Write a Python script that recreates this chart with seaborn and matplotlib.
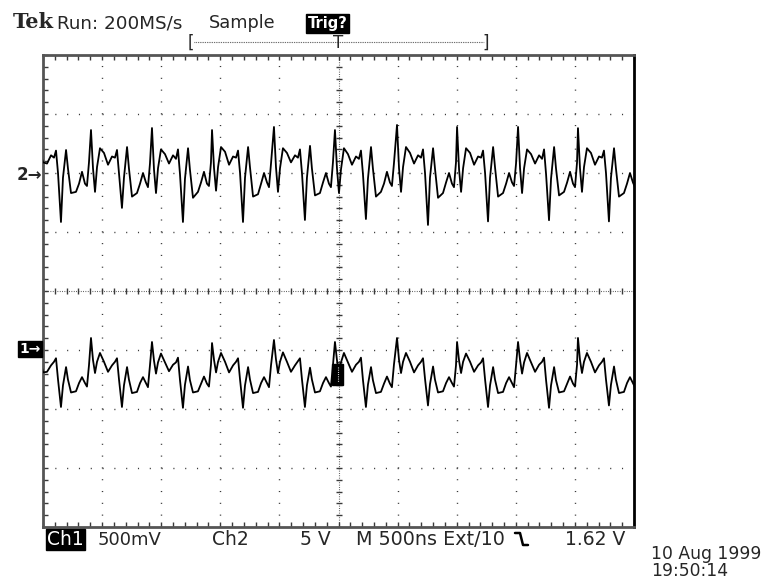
import numpy as np
import pandas as pd
import matplotlib
matplotlib.use("Agg")
import matplotlib.pyplot as plt
from matplotlib.lines import Line2D
from matplotlib.patches import Rectangle
from matplotlib.ticker import MultipleLocator
import seaborn as sns

# ---------------- data ----------------
peak_times_ns = [-2610, -2094, -1578, -1070, -546, -30, 495, 1003, 1519, 2026]
cycle_offsets_ns = [0, 17, 34, 51, 76, 110, 144, 178, 203, 220, 237,
                    262, 279, 305, 321, 347, 389, 415, 440, 465, 482, 499]

ch2_cycles_V = [
    [3.6, 0.4, -1.6, 0.4, 2.1, 0.9, 0.8, 1.5, 1.3, 1.9, 0.0, -4.15, -0.4, 1.95, 0.4, -1.7, -1.6, -0.9, 0.1, -0.9, -1.1, 0.9],
    [3.64, 0.4, -1.6, 0.5, 2.1, 1.7, 0.7, 1.4, 1.3, 1.95, 0.0, -2.96, -0.4, 2.2, 0.4, -2.0, -1.7, -0.9, 0.0, -0.8, -1.2, 0.8],
    [3.81, 0.3, -1.7, 0.4, 2.0, 1.6, 0.8, 1.5, 1.2, 2.0, -0.1, -4.15, -0.5, 2.1, 0.3, -2.1, -1.6, -0.8, 0.1, -0.9, -1.1, 0.9],
    [3.64, 0.4, -1.5, 0.5, 2.2, 1.8, 0.7, 1.4, 1.3, 1.9, 0.0, -4.15, -0.4, 2.2, 0.5, -2.0, -1.8, -0.9, 0.0, -0.8, -1.2, 0.8],
    [3.9, 0.5, -1.6, 0.4, 2.1, 1.7, 0.9, 1.5, 1.3, 2.0, 0.0, -3.98, -0.4, 2.3, 0.4, -1.9, -1.7, -0.8, 0.0, -0.9, -1.2, 0.9],
    [3.64, 0.4, -1.7, 0.3, 2.1, 1.6, 0.7, 1.4, 1.2, 1.9, -0.1, -3.9, -0.5, 2.2, 0.4, -2.0, -1.6, -0.9, 0.1, -0.8, -1.1, 0.8],
    [4.07, 0.4, -1.6, 0.5, 2.2, 1.7, 0.8, 1.5, 1.3, 2.0, 0.0, -4.4, -0.4, 2.1, 0.4, -2.1, -1.7, -0.8, 0.0, -0.9, -1.2, 0.9],
    [3.9, 0.3, -1.6, 0.4, 2.1, 1.7, 0.7, 1.4, 1.3, 1.9, 0.0, -4.1, -0.4, 2.2, 0.5, -2.0, -1.7, -0.9, 0.0, -0.8, -1.1, 0.8],
    [3.9, 0.4, -1.7, 0.4, 2.0, 1.6, 0.8, 1.5, 1.2, 2.0, -0.1, -4.0, -0.5, 2.2, 0.4, -1.9, -1.6, -0.8, 0.1, -0.9, -1.2, 0.9],
    [3.8, 0.4, -1.6, 0.5, 2.1, 1.7, 0.7, 1.4, 1.3, 1.9, 0.0, -4.1, -0.4, 2.1, 0.4, -2.0, -1.7, -0.9, 0.0, -0.8, -1.2, 0.8],
]

ch1_cycles_mV = [
    [90, -85, -195, -100, -25, -190, -185, -130, -100, -70, -250, -483, -300, -145, -250, -360, -350, -280, -230, -280, -310, -130],
    [102, -85, -195, -100, -25, -100, -185, -130, -100, -70, -250, -483, -300, -145, -250, -365, -355, -280, -230, -280, -315, -130],
    [68, -90, -200, -105, -30, -105, -180, -125, -105, -65, -255, -490, -295, -140, -255, -360, -350, -285, -225, -285, -310, -125],
    [59, -85, -190, -100, -25, -100, -190, -130, -100, -70, -250, -490, -300, -145, -250, -365, -355, -280, -230, -280, -315, -130],
    [85, -80, -195, -100, -20, -100, -185, -130, -95, -70, -250, -483, -300, -150, -250, -360, -350, -280, -230, -280, -310, -130],
    [68, -85, -200, -105, -25, -105, -185, -125, -100, -65, -255, -483, -295, -145, -255, -365, -355, -285, -225, -285, -315, -125],
    [102, -85, -195, -100, -25, -100, -190, -130, -100, -70, -245, -470, -290, -140, -250, -360, -350, -280, -230, -280, -310, -130],
    [68, -90, -195, -100, -30, -100, -185, -130, -105, -70, -250, -483, -300, -145, -250, -365, -355, -280, -230, -280, -315, -130],
    [68, -85, -200, -105, -25, -105, -185, -125, -100, -65, -255, -490, -300, -145, -255, -360, -350, -285, -225, -285, -310, -125],
    [102, -85, -195, -100, -25, -100, -190, -130, -100, -70, -250, -470, -295, -140, -250, -365, -355, -280, -230, -280, -315, -130],
]

time_ns = [p + o for p in peak_times_ns for o in cycle_offsets_ns]
ch2_V = [v for cyc in ch2_cycles_V for v in cyc]
ch1_mV = [v for cyc in ch1_cycles_mV for v in cyc]

df2 = pd.DataFrame({"t": time_ns, "v": ch2_V})
df1 = pd.DataFrame({"t": time_ns, "v": ch1_mV})

# ---------------- figure ----------------
sns.set_style("white")
plt.rcParams["font.family"] = ["DejaVu Sans"]

W, H = 774, 581
fig = plt.figure(figsize=(W / 100, H / 100), dpi=100)
fig.patch.set_facecolor("white")


def fx(x):
    return x / W


def fy(y):
    return 1 - y / H


ax = fig.add_axes([43 / W, (H - 527) / H, 591 / W, 472 / H])
ax.set_xlim(-2500, 2500)
ax.set_ylim(-4, 4)
ax.set_facecolor("white")

gc = "#3a3a3a"
# dotted graticule
for i in range(1, 10):
    x = -2500 + 500 * i
    if x == 0:
        continue
    ax.axvline(x, color=gc, lw=1.0, dashes=(0.8, 7.7), zorder=1)
for j in range(-3, 4):
    if j == 0:
        continue
    ax.axhline(j, color=gc, lw=1.0, dashes=(0.8, 7.7), zorder=1)
# centre lines (dense dots + fine ticks)
ax.axvline(0, color=gc, lw=0.8, dashes=(0.7, 1.4), zorder=1)
ax.axhline(0, color=gc, lw=0.8, dashes=(0.7, 1.4), zorder=1)
xs = np.arange(-2500, 2501, 100)
ax.plot(xs, np.zeros_like(xs, dtype=float), ls="none", marker="|", ms=5, mew=1, color=gc, zorder=1)
ys = np.arange(-4, 4.001, 0.2)
ax.plot(np.zeros_like(ys), ys, ls="none", marker="_", ms=5, mew=1, color=gc, zorder=1)

ax.xaxis.set_major_locator(MultipleLocator(500))
ax.xaxis.set_minor_locator(MultipleLocator(100))
ax.yaxis.set_major_locator(MultipleLocator(1))
ax.yaxis.set_minor_locator(MultipleLocator(0.2))
ax.tick_params(which="both", direction="in", length=3.5, width=1, color=gc,
               top=True, right=True, bottom=True, left=True,
               labelbottom=False, labelleft=False)
for s in ax.spines.values():
    s.set_linewidth(2)
    s.set_color("#555555")
ax.spines["right"].set_color("black")
ax.set_xlabel("")
ax.set_ylabel("")

# channel 2: 5 V/div, ground at +2 div
ax2 = ax.twinx()
sns.lineplot(data=df2, x="t", y="v", ax=ax2, sort=False, estimator=None,
             color="black", lw=1.3)
ax2.set_xlim(-2500, 2500)
ax2.set_ylim(-30, 10)
ax2.axis("off")

# channel 1: 500 mV/div, ground at -1 div
ax1 = ax.twinx()
sns.lineplot(data=df1, x="t", y="v", ax=ax1, sort=False, estimator=None,
             color="black", lw=1.3)
ax1.set_xlim(-2500, 2500)
ax1.set_ylim(-1500, 2500)
ax1.axis("off")

# trigger-point marker on channel 1
fig.add_artist(Rectangle((fx(332), fy(385)), 11 / W, 21 / H, facecolor="black",
                         edgecolor="black", zorder=5))
fig.add_artist(Line2D([fx(338), fx(338)], [fy(367), fy(382)], lw=0.8,
                      dashes=(0.8, 1.2), color="white", zorder=6))

# ---------------- header ----------------
fig.text(fx(13), fy(28), "Tek", fontfamily="DejaVu Serif", fontweight="bold",
         fontsize=15, va="baseline", ha="left")
fig.text(fx(57), fy(28), "Run: 200MS/s", fontsize=13.2, va="baseline")
fig.text(fx(209), fy(28), "Sample", fontsize=12.8, va="baseline")
fig.text(fx(308), fy(28), "Trig?", fontsize=10.5, fontweight="bold", color="white",
         va="baseline", bbox=dict(facecolor="black", edgecolor="black", pad=1.2))

# trigger window bracket
fig.text(fx(188), fy(43), "[", fontsize=12, va="center", ha="left")
fig.text(fx(489), fy(43), "]", fontsize=12, va="center", ha="right")
fig.add_artist(Line2D([fx(194), fx(484)], [fy(42), fy(42)], lw=0.8,
                      dashes=(0.7, 0.9), color="#444444"))
fig.text(fx(338), fy(43), "T", fontsize=12, va="center", ha="center")

# channel markers
fig.text(fx(17), fy(175), "2\u2192", fontsize=12, fontweight="bold",
         va="center", ha="left")
fig.text(fx(19), fy(349), "1\u2192", fontsize=10, fontweight="bold", color="white",
         va="center", ha="left",
         bbox=dict(facecolor="black", edgecolor="black", pad=1.0))

# ---------------- status line ----------------
by = fy(545)
fig.text(fx(47), by, "Ch1", fontsize=13.5, color="white", va="baseline",
         bbox=dict(facecolor="black", edgecolor="black", pad=1.0))
fig.text(fx(98), by, "500mV", fontsize=13, va="baseline")
fig.text(fx(212), by, "Ch2", fontsize=13.5, va="baseline")
fig.text(fx(300), by, "5 V", fontsize=13.5, va="baseline")
fig.text(fx(356), by, "M 500ns Ext/10", fontsize=13.8, va="baseline")
fig.add_artist(Line2D([fx(515), fx(520), fx(523), fx(528)],
                      [fy(533), fy(533), fy(545), fy(545)], lw=1.8, color="black"))
fig.text(fx(565), by, "1.62 V", fontsize=13.5, va="baseline")

fig.text(fx(651), fy(580), "10 Aug 1999\n19:50:14", fontsize=12.3,
         va="bottom", ha="left", linespacing=0.95)

fig.savefig("out.png", dpi=100)
